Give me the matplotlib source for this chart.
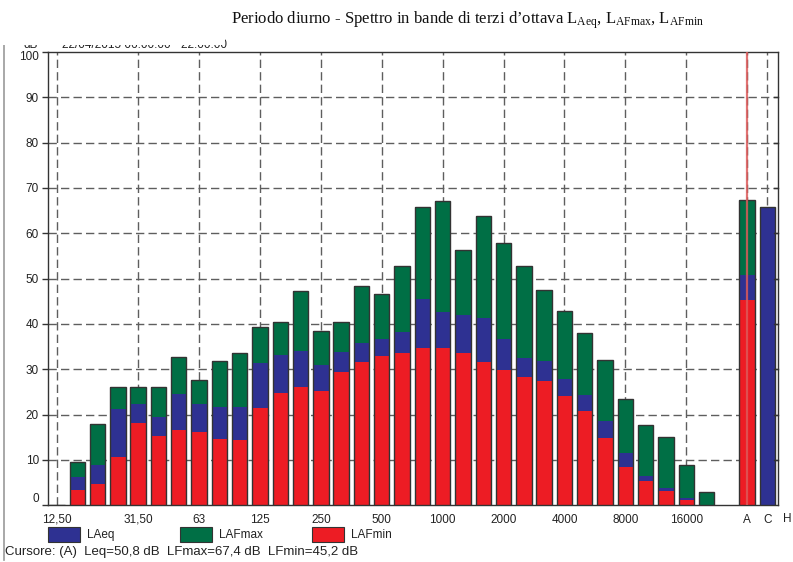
import numpy as np
import matplotlib
matplotlib.use("Agg")
import matplotlib.pyplot as plt
from matplotlib.patches import Rectangle
from matplotlib.lines import Line2D
import matplotlib.transforms as mtransforms

plt.rcParams['mathtext.fontset'] = 'custom'
plt.rcParams['mathtext.rm'] = 'Liberation Serif'
plt.rcParams['mathtext.it'] = 'Liberation Serif:italic'

# ---------------- data ----------------
bands = ['12,5', '16', '20', '25', '31,5', '40', '50', '63', '80', '100', '125', '160',
         '200', '250', '315', '400', '500', '630', '800', '1000', '1250', '1600', '2000',
         '2500', '3150', '4000', '5000', '6300', '8000', '10000', '12500', '16000', '20000',
         'A', 'C']
nan = np.nan
laf_max = [nan, 9.5, 17.9, 26.0, 26.2, 26.0, 32.7, 27.7, 31.9, 33.6, 39.3, 40.5,
           47.3, 38.5, 40.5, 48.3, 46.6, 52.7, 65.9, 67.1, 56.4, 63.9, 57.9,
           52.7, 47.5, 42.8, 38.1, 32.1, 23.4, 17.7, 15.1, 8.9, 3.0,
           67.4, nan]
la_eq = [nan, 6.2, 8.9, 21.3, 22.4, 19.4, 24.6, 22.4, 21.6, 21.6, 31.3, 33.2,
         34.1, 31.0, 33.9, 35.7, 36.7, 38.3, 45.5, 42.7, 42.0, 41.4, 36.7,
         32.6, 31.9, 27.9, 24.3, 18.6, 11.5, 6.5, 3.9, 1.6, 0.0,
         50.8, 65.7]
laf_min = [nan, 3.4, 4.7, 10.7, 18.2, 15.3, 16.6, 16.2, 14.6, 14.4, 21.5, 24.8,
           26.0, 25.3, 29.5, 31.7, 33.0, 33.7, 34.8, 34.8, 33.7, 31.7, 29.9,
           28.3, 27.4, 24.2, 20.9, 14.9, 8.5, 5.4, 3.2, 1.2, 0.0,
           45.2, nan]
xtick_labels = ['12,50', '31,50', '63', '125', '250', '500', '1000', '2000', '4000',
                '8000', '16000', 'A', 'C']
yticks = [0, 10, 20, 30, 40, 50, 60, 70, 80, 90, 100]
legend_labels = ['LAeq', 'LAFmax', 'LAFmin']
cursor_text = 'Cursore: (A)  Leq=50,8 dB  LFmax=67,4 dB  LFmin=45,2 dB'
title = (r'Periodo diurno - Spettro in bande di terzi d’ottava '
         r'L$_{\mathrm{Aeq}}$, L$_{\mathrm{AFmax}}$, L$_{\mathrm{AFmin}}$')

# ---------------- layout ----------------
W, H = 793, 562
fig = plt.figure(figsize=(W / 100, H / 100), dpi=100)

def fx(px):
    return px / W

def fy(py):
    return 1 - py / H

ax = fig.add_axes([fx(48), fy(505.3), fx(778) - fx(48), fy(52) - fy(505.3)])

c_blue = '#2E3192'
c_green = '#006F45'
c_red = '#ED1C24'
c_edge = '#333333'
c_text = '#222222'

# positions: third-octave bands consecutive, then gap, then A and C
pos = np.concatenate([np.arange(33), [34, 35]]).astype(float)
width = 0.76

mx = np.array(laf_max, dtype=float)
eq = np.array(la_eq, dtype=float)
mn = np.array(laf_min, dtype=float)

ax.bar(pos, np.nan_to_num(mx), width, color=c_green, linewidth=0, zorder=3)
ax.bar(pos, np.nan_to_num(eq), width, color=c_blue, linewidth=0, zorder=3)
ax.bar(pos, np.nan_to_num(mn), width, color=c_red, linewidth=0, zorder=3)
top = np.nanmax(np.vstack([mx, eq, mn]), axis=0)
top = np.where(np.isnan(top), 0, top)
ax.bar(pos, top, width, fill=False, edgecolor=c_edge, linewidth=1.0, zorder=4)

ax.set_xlim(-0.44, 35.52)
ax.set_ylim(0, 100)

# grid
gcol = '#5e5e5e'
for y in yticks[1:-1]:
    ax.axhline(y, color=gcol, lw=1.0, ls=(0, (6, 3)), zorder=1)
tick_idx = {'12,50': 0, '31,50': 4, '63': 7, '125': 10, '250': 13, '500': 16,
            '1000': 19, '2000': 22, '4000': 25, '8000': 28, '16000': 31,
            'A': 34, 'C': 35}
xt = [tick_idx[t] for t in xtick_labels]
for x in xt:
    ax.axvline(x, color=gcol, lw=1.0, ls=(0, (6, 3)), zorder=1)

# small inward ticks on the right spine
for y in yticks[1:-1]:
    ax.plot([1 - 4 / 730, 1], [y, y], color=c_edge, lw=1.0, zorder=5,
            transform=ax.get_yaxis_transform(), clip_on=False)

# cursor line at A
ax.axvline(34, color='#DC5A5A', lw=1.6, alpha=0.85, zorder=6)

ax.set_xticks(xt)
ax.set_xticklabels(xtick_labels)
ax.set_yticks(yticks)
ylabs = [str(v) for v in yticks]
ax.set_yticklabels(['' if v in (0, 100) else s for v, s in zip(yticks, ylabs)])
ax.tick_params(axis='x', length=0, pad=6, labelsize=8.5, labelcolor=c_text)
ax.tick_params(axis='y', length=4, width=1, color=c_edge, pad=2.5, labelsize=8.5,
               labelcolor=c_text, direction='out')
for lab in ax.get_xticklabels() + ax.get_yticklabels():
    lab.set_family('Liberation Sans')
for s in ax.spines.values():
    s.set_color(c_edge)
    s.set_linewidth(1.0)

# end labels of the y axis, nudged inside as in the reference
ytr = ax.get_yaxis_transform()
for v, s in zip(yticks, ylabs):
    if v in (0, 100):
        dy = -5 if v == 100 else 6
        tr = ytr + mtransforms.ScaledTranslation(-9 / 100, dy / 100, fig.dpi_scale_trans)
        ax.text(0, v, s, transform=tr, ha='right', va='center', fontsize=8.5,
                family='Liberation Sans', color=c_text, clip_on=False)

# H label outside the axes
fig.text(fx(787), fy(519), 'H', ha='center', va='center', fontsize=8.5,
         family='Liberation Sans', color=c_text)

# title
fig.text(fx(468), fy(20), title, ha='center', va='center', fontsize=12,
         family='Liberation Serif', color='#111111')

# clipped header text above the plot area
fig.text(fx(24), fy(47.5), 'dB', ha='left', va='baseline', fontsize=8.5,
         family='Liberation Sans', color=c_text)
fig.text(fx(62), fy(47.5), '22/04/2015 06:00:00 - 22:00:00', ha='left', va='baseline',
         fontsize=8.5, family='Liberation Sans', color=c_text)
fig.add_artist(Rectangle((0, fy(45.2)), fx(225), fy(30) - fy(45.2), transform=fig.transFigure,
                         facecolor='white', edgecolor='none', zorder=10))

# outer frame line on the left
fig.add_artist(Line2D([fx(4), fx(4)], [fy(42), fy(560)], transform=fig.transFigure,
                      color='#9a9a9a', lw=1.2))

# legend
leg_x = [(48, 87), (180, 219), (312, 351)]
for (px, tx), col, lab in zip(leg_x, [c_blue, c_green, c_red], legend_labels):
    fig.add_artist(Rectangle((fx(px), fy(542)), fx(32), fy(527) - fy(542),
                             transform=fig.transFigure, facecolor=col,
                             edgecolor=c_edge, linewidth=0.8))
    fig.text(fx(tx), fy(535), lab, ha='left', va='center', fontsize=8.5,
             family='Liberation Sans', color=c_text)

fig.text(fx(5), fy(552), cursor_text, ha='left', va='center', fontsize=9.5,
         family='Liberation Sans', color=c_text)

fig.savefig('out.png', dpi=100)
